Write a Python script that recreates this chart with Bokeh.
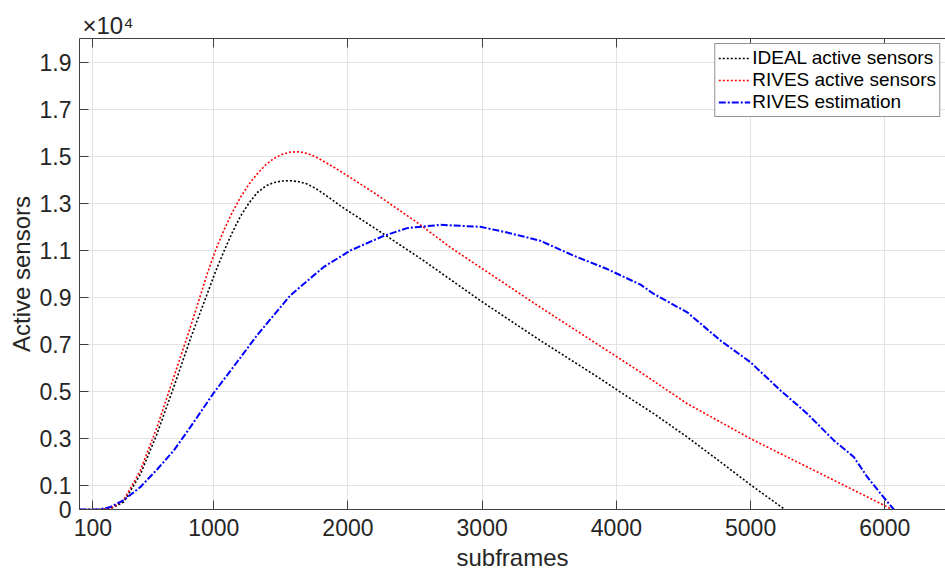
from bokeh.plotting import figure
from bokeh.models import Range1d, FixedTicker, LinearAxis, Legend, LegendItem
from bokeh.embed import file_html
from bokeh.resources import INLINE

# ---- data ----
ideal_x = [0, 150, 230, 330, 454, 578, 702, 826, 951, 1013, 1075, 1137, 1199, 1261,
           1323, 1385, 1447, 1510, 1572, 1634, 1696, 1758, 1820, 1882, 1944, 2267,
           2565, 2987, 3434, 3881, 4030, 4279, 4528, 4776, 4999, 5255]
ideal_y = [0, 0, 30, 320, 1500, 3220, 5195, 7245, 9152, 10100, 10950, 11750, 12450,
           13000, 13450, 13730, 13880, 13950, 13960, 13920, 13820, 13640, 13400,
           13150, 12890, 11694, 10563, 8868, 7173, 5551, 4983, 4068, 3076, 2017,
           1050, 0]

rives_x = [0, 150, 230, 329, 454, 578, 702, 826, 951, 1013, 1075, 1137, 1199, 1261,
           1323, 1385, 1447, 1510, 1572, 1634, 1696, 1758, 1820, 1882, 1944, 2019,
           2192, 2516, 2764, 2987, 3434, 3931, 4180, 4528, 4776, 4999, 5273, 5521,
           5769, 5968, 6055]
rives_y = [0, 0, 40, 394, 1665, 3500, 5618, 7737, 10000, 11000, 11850, 12600, 13250,
           13800, 14250, 14620, 14900, 15080, 15180, 15190, 15120, 14980, 14780,
           14580, 14360, 14090, 13457, 12186, 11126, 10279, 8584, 6750, 5830, 4491,
           3712, 3008, 2229, 1525, 818, 254, 0]

est_x = [0, 150, 230, 329, 454, 578, 702, 826, 1000, 1199, 1323, 1572, 1820, 2019,
         2267, 2441, 2689, 2987, 3186, 3434, 3683, 3931, 4180, 4279, 4528, 4776, 4999,
         5223, 5422, 5620, 5769, 5869, 5968, 6067]
est_y = [0, 0, 110, 394, 958, 1700, 2500, 3500, 4950, 6450, 7400, 9100, 10300, 11000,
         11622, 11948, 12088, 12003, 11762, 11410, 10775, 10211, 9546, 9152, 8372,
         7173, 6254, 5055, 4068, 2936, 2229, 1381, 678, 0]

series_names = ["IDEAL active sensors", "RIVES active sensors", "RIVES estimation"]

x_ticks = [100, 1000, 2000, 3000, 4000, 5000, 6000]
y_ticks = [0, 1000, 3000, 5000, 7000, 9000, 11000, 13000, 15000, 17000, 19000]
y_tick_labels = ["0", "0.1", "0.3", "0.5", "0.7", "0.9", "1.1", "1.3", "1.5", "1.7", "1.9"]
exponent_text = "×10⁴"

FONT = "Liberation Sans"
TXT = "#262626"
AX = "#404040"

p = figure(width=945, height=576, output_backend="svg", toolbar_location=None,
           x_range=Range1d(0, 6452), y_range=Range1d(0, 20000),
           min_border_left=79, min_border_right=0, min_border_top=38,
           min_border_bottom=67, x_axis_label="subframes", y_axis_label="Active sensors",
           title=exponent_text)
p.outline_line_color = None
p.background_fill_color = "white"

p.title.align = "left"
p.title.offset = 3
p.title.standoff = 0
p.title.text_font = FONT
p.title.text_font_size = "24px"
p.title.text_font_style = "normal"
p.title.text_color = TXT

xt = FixedTicker(ticks=x_ticks)
yt = FixedTicker(ticks=y_ticks)

for ax in (p.xaxis[0], p.yaxis[0]):
    ax.major_tick_in = 9
    ax.major_tick_out = 0
    ax.minor_tick_line_color = None
    ax.axis_line_color = AX
    ax.major_tick_line_color = AX
    ax.major_label_text_font = FONT
    ax.major_label_text_font_size = "23px"
    ax.major_label_text_color = TXT
    ax.axis_label_text_font = FONT
    ax.axis_label_text_font_size = "24px"
    ax.axis_label_text_font_style = "normal"
    ax.axis_label_text_color = TXT

p.xaxis[0].ticker = xt
p.yaxis[0].ticker = yt
p.yaxis[0].major_label_overrides = {t: l for t, l in zip(y_ticks, y_tick_labels)}
p.xaxis[0].major_label_standoff = 9
p.yaxis[0].major_label_standoff = 8
p.xaxis[0].axis_label_standoff = 5
p.yaxis[0].axis_label_standoff = 2

top = LinearAxis(ticker=xt, major_tick_in=9, major_tick_out=0,
                 minor_tick_line_color=None, axis_line_color=AX,
                 major_tick_line_color=AX, major_label_standoff=0,
                 major_label_overrides={t: "" for t in x_ticks},
                 major_label_text_font_size="1px")
p.add_layout(top, "above")

p.xgrid.ticker = xt
p.ygrid.ticker = yt
p.xgrid.grid_line_color = "#e3e3e3"
p.ygrid.grid_line_color = "#e3e3e3"

r1 = p.line(ideal_x, ideal_y, line_color="black", line_width=1.6, line_dash="2 2")
r2 = p.line(rives_x, rives_y, line_color="#ff0000", line_width=1.6, line_dash="2 2")
r3 = p.line(est_x, est_y, line_color="#0000ff", line_width=2, line_dash="7 2 2 2")

legend = Legend(items=[LegendItem(label=series_names[0], renderers=[r1]),
                       LegendItem(label=series_names[1], renderers=[r2]),
                       LegendItem(label=series_names[2], renderers=[r3])],
                location="top_right", margin=5, padding=3, spacing=0,
                label_text_font=FONT, label_text_font_size="19px",
                label_text_color="black", label_height=22, glyph_height=22,
                glyph_width=32, label_standoff=2,
                border_line_color=TXT, border_line_width=1,
                background_fill_color="white", background_fill_alpha=1)
p.add_layout(legend)

open("out.html", "w").write(file_html(p, INLINE))
